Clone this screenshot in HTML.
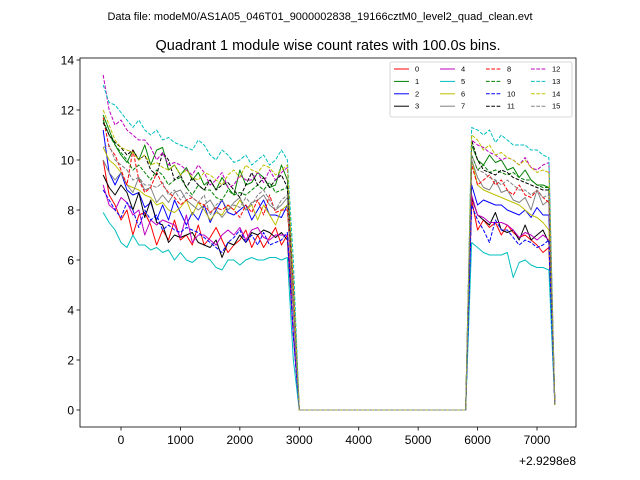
<!DOCTYPE html>
<html><head><meta charset="utf-8"><style>
body{margin:0;background:#fff}
svg{display:block;font-family:"Liberation Sans","DejaVu Sans",sans-serif}
</style></head><body>
<svg id="chart" width="640" height="480" viewBox="0 0 640 480">
<rect width="640" height="480" fill="#fff"/>
<text x="320" y="20" text-anchor="middle" font-size="11">Data file: modeM0/AS1A05_046T01_9000002838_19166cztM0_level2_quad_clean.evt</text>
<text x="328" y="50" text-anchor="middle" font-size="14.5">Quadrant 1 module wise count rates with 100.0s bins.</text>
<g id="plot"></g>
<g id="axes"></g>
<g id="legend"></g>
<text x="576" y="465" text-anchor="end" font-size="12">+2.9298e8</text>
</svg>
<script>
const xTicks=[0,1000,2000,3000,4000,5000,6000,7000];
const yTicks=[0,2,4,6,8,10,12,14];
const gapZeros=[0,0,0,0,0,0,0,0,0,0,0,0,0,0,0,0,0,0,0,0,0,0,0,0,0,0,0,0,0];
const seg1=[
[10.0,8.6,8.2,7.6,8.0,7.0,7.8,7.9,7.4,6.6,7.2,6.8,7.6,6.8,7.0,6.6,7.4,6.6,6.9,7.3,6.8,6.3,6.6,6.8,7.2,6.5,7.0,6.5,6.9,7.3,6.6,7.0],
[11.8,11.2,10.6,10.2,9.9,10.4,10.0,10.6,9.8,10.4,10.5,9.6,9.8,9.4,9.7,9.2,9.5,9.0,9.2,8.8,9.3,8.9,8.6,9.6,9.0,9.1,9.5,9.3,8.9,9.0,9.8,9.2],
[11.2,9.5,9.0,9.5,8.8,8.6,8.7,8.1,8.3,7.6,8.2,7.6,8.4,7.9,7.4,7.9,7.6,8.2,7.5,8.0,8.4,7.9,7.8,8.0,8.2,7.6,8.0,8.4,7.8,7.8,7.7,8.2],
[9.4,8.9,8.6,9.0,8.7,8.0,8.7,7.7,8.4,7.5,7.4,6.7,7.0,6.9,7.0,7.1,6.7,6.6,6.5,6.8,6.1,6.7,6.6,7.0,6.7,7.1,7.0,7.2,7.1,6.9,7.1,6.8],
[9.0,8.2,8.0,8.5,8.3,7.8,8.0,7.0,7.6,7.4,7.6,7.5,7.4,6.9,7.8,6.7,7.0,7.0,6.8,6.6,7.0,7.2,7.0,7.3,6.8,7.2,7.3,6.9,6.8,7.0,7.0,7.0],
[7.9,7.5,7.2,6.7,6.5,7.0,6.6,6.6,6.4,6.5,6.3,6.4,6.0,6.3,6.0,5.9,6.1,6.1,6.0,5.7,5.6,6.0,6.0,5.8,6.0,6.1,6.0,6.0,6.1,6.1,6.0,6.1],
[10.5,10.0,9.8,9.5,9.0,8.9,8.8,8.6,8.5,8.2,8.3,8.0,7.9,8.1,8.4,7.8,8.3,8.0,7.6,7.9,7.8,8.2,8.0,8.4,8.0,8.2,7.6,8.2,7.8,7.4,8.0,8.2],
[10.0,9.5,9.2,9.5,9.0,8.7,9.3,8.8,8.9,8.3,8.6,8.3,8.7,8.8,8.4,8.2,8.0,8.2,8.4,8.0,7.7,8.0,8.3,8.5,8.0,8.3,8.4,8.6,8.2,8.0,8.2,8.5],
[11.7,10.5,10.2,9.6,9.0,10.4,9.2,8.7,8.9,9.5,9.0,8.7,8.5,8.2,8.4,8.5,8.3,8.2,7.9,8.1,8.0,8.2,8.0,7.7,8.2,7.9,8.4,7.8,8.6,7.9,8.0,8.0],
[11.6,11.0,10.6,10.3,10.0,9.6,9.8,9.5,9.2,9.6,9.4,9.0,9.2,9.3,8.9,8.6,9.0,8.8,8.8,8.5,8.4,8.8,8.6,8.7,8.6,8.8,9.0,8.8,9.1,8.7,8.8,8.9],
[8.8,8.4,8.0,7.7,8.3,8.0,7.3,8.0,7.6,7.8,7.2,7.4,7.2,7.1,7.3,7.2,7.1,6.9,6.7,6.5,6.3,6.7,6.9,7.2,6.7,7.0,6.6,7.1,6.6,6.7,6.8,7.1],
[11.5,11.0,10.7,10.5,10.2,10.4,10.0,10.2,9.6,9.4,10.3,10.0,9.2,9.4,8.9,9.3,9.0,8.8,9.2,8.8,9.0,9.1,8.8,8.5,9.0,9.5,9.0,9.3,8.9,9.2,9.4,8.9],
[13.4,12.0,11.4,11.6,11.2,11.0,10.8,10.8,10.5,10.0,10.3,9.8,9.9,9.8,9.6,9.4,9.8,9.5,9.0,9.2,9.5,8.9,9.0,9.4,9.2,9.2,9.5,9.1,9.6,9.2,9.5,9.7],
[13.0,12.3,12.2,11.9,11.6,11.3,11.6,11.2,11.0,11.2,10.8,10.9,10.7,10.6,10.5,10.4,10.8,10.6,10.2,10.0,10.4,10.2,9.9,10.0,10.2,9.8,10.0,10.2,9.8,10.0,10.4,10.0],
[12.0,11.4,10.8,10.5,10.4,10.3,10.0,10.2,9.8,9.9,9.7,9.6,9.8,9.4,9.6,9.3,9.2,9.5,9.4,9.2,9.0,9.4,9.6,9.3,9.8,9.6,9.5,9.8,9.7,9.4,9.6,9.8],
[10.5,10.6,10.0,9.8,9.6,9.2,9.3,9.0,9.0,8.9,9.1,8.6,8.8,8.4,8.7,8.5,8.3,8.6,7.8,8.2,8.4,8.0,8.2,8.1,8.5,8.2,8.6,8.8,8.4,8.0,8.4,8.6]];
const dropVals=[4,5,4,3,3,2,4,4,5,5,3,5,5,6,5,4];
const seg2=[
[8.4,7.2,7.6,7.3,7.5,7.0,7.4,7.1,6.9,7.0,6.8,6.6,6.3,6.5],
[10.6,10.0,9.8,10.2,9.9,10.0,9.6,9.7,9.3,9.6,9.2,9.0,9.0,8.9],
[9.0,8.2,8.4,8.3,8.2,8.2,8.0,7.9,7.8,8.0,7.7,8.1,7.8,7.8],
[8.5,7.8,7.6,7.4,7.9,7.2,7.1,7.2,6.8,7.4,6.8,7.0,7.2,6.7],
[8.6,7.8,7.7,7.5,7.5,7.5,7.4,7.2,6.9,7.1,7.0,6.8,7.0,6.8],
[6.7,6.5,6.3,6.2,6.2,6.2,6.3,5.3,5.9,6.0,5.8,5.7,5.7,5.6],
[10.0,9.0,8.8,8.7,8.6,8.5,8.4,8.3,8.2,8.0,7.8,7.7,7.5,7.2],
[10.0,9.3,8.9,8.8,9.2,8.7,8.8,8.4,8.3,8.5,8.0,8.8,8.2,8.4],
[9.8,9.0,9.2,9.4,9.0,9.2,8.8,8.6,9.0,8.6,8.5,8.8,8.5,8.3],
[10.2,9.6,9.8,9.5,9.6,9.5,9.4,9.5,9.3,9.2,9.2,9.0,8.9,8.9],
[8.2,7.6,7.2,6.7,7.6,7.2,7.2,6.9,6.6,6.8,6.7,6.5,6.6,6.8],
[10.8,10.0,9.6,9.5,9.4,9.6,9.5,9.3,9.2,9.1,9.0,8.9,8.8,8.8],
[10.8,10.6,10.5,10.3,10.2,10.0,10.1,10.0,9.8,10.1,9.7,9.6,9.8,9.9],
[11.3,11.2,11.0,11.2,10.7,11.0,10.8,10.6,10.6,10.6,10.4,10.4,10.2,10.1],
[11.0,10.8,10.4,10.6,10.2,10.3,10.1,10.0,9.8,10.0,9.7,9.5,9.6,9.5],
[10.2,9.6,9.5,9.3,9.2,9.0,9.2,9.0,8.8,8.8,8.6,8.8,8.5,8.6]];
const endVals=[0.3,0.3,0.3,0.3,0.3,0.2,0.3,0.3,0.3,0.3,0.2,0.2,0.2,0.2,0.2,0.2];
const startTime=-300, binSize=100;
const colors=['#ff0000','#008000','#0000ff','#000000','#bf00bf','#00bfbf','#bfbf00','#808080'];

const NS='http://www.w3.org/2000/svg';
const L=80,R=576,T=58,B=427;
const xs=v=>121+v*0.059428;
const ys=v=>410-v*25;
function mk(tag,attrs,parent){const e=document.createElementNS(NS,tag);for(const k in attrs)e.setAttribute(k,attrs[k]);parent.appendChild(e);return e;}
const plot=document.getElementById('plot'),axes=document.getElementById('axes'),legend=document.getElementById('legend');
for(let s=0;s<16;s++){
  const vals=seg1[s].concat([dropVals[s]],gapZeros,seg2[s],[endVals[s]]);
  const pts=vals.map((v,i)=>xs(startTime+i*binSize).toFixed(2)+','+ys(v).toFixed(2)).join(' ');
  const a={points:pts,fill:'none',stroke:colors[s%8],'stroke-width':1,'stroke-linejoin':'round'};
  if(s>=8)a['stroke-dasharray']='3.7,1.6';
  const p=mk('polyline',a,plot);
  
  
}
const fr=mk('rect',{x:L,y:T,width:R-L,height:B-T,fill:'none',stroke:'#000','stroke-width':0.8},axes);


xTicks.forEach(t=>{const x=xs(t);
  const tk=mk('line',{x1:x,x2:x,y1:B,y2:B+3.5,stroke:'#000','stroke-width':0.8},axes);
  
  
  const tx=mk('text',{x:x,y:B+17,'text-anchor':'middle','font-size':12},axes);tx.textContent=t;
  
  
});
yTicks.forEach(t=>{const y=ys(t);
  const tk=mk('line',{x1:L-3.5,x2:L,y1:y,y2:y,stroke:'#000','stroke-width':0.8},axes);
  
  
  const tx=mk('text',{x:L-6,y:y+4.5,'text-anchor':'end','font-size':12},axes);tx.textContent=t;
  
  
});
const lb=mk('rect',{x:390,y:62,width:182,height:55,rx:2,fill:'#fff','fill-opacity':0.8,stroke:'#ccc','stroke-width':0.8},legend);


const colX=[394,440,486,531];
for(let s=0;s<16;s++){
  const c=Math.floor(s/4),r=s%4,x=colX[c],y=69+r*12.4;
  const a={x1:x,x2:x+15,y1:y,y2:y,stroke:colors[s%8],'stroke-width':1};
  if(s>=8)a['stroke-dasharray']='3.7,1.6';
  const ln=mk('line',a,legend);
  
  
  const tx=mk('text',{x:x+21,y:y+2.5,'font-size':7.5},legend);tx.textContent=s;
  
  
}
</script>
</body></html>
